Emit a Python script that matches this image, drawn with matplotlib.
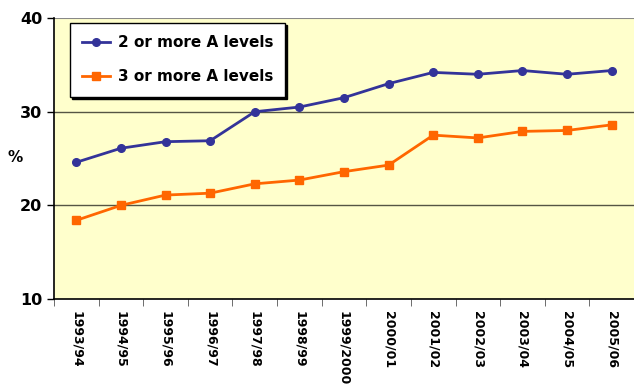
import matplotlib
matplotlib.use("Agg")
import numpy as np
import matplotlib.pyplot as plt

years = ["1993/94", "1994/95", "1995/96", "1996/97", "1997/98", "1998/99", "1999/2000",
         "2000/01", "2001/02", "2002/03", "2003/04", "2004/05", "2005/06"]
two_plus = [24.6, 26.1, 26.8, 26.9, 30.0, 30.5, 31.5, 33.0, 34.2, 34.0, 34.4, 34.0, 34.4]
three_plus = [18.4, 20.0, 21.1, 21.3, 22.3, 22.7, 23.6, 24.3, 27.5, 27.2, 27.9, 28.0, 28.6]

fig = plt.figure(figsize=(6.34, 3.85), dpi=100)
ax = fig.add_axes([0.0852, 0.2234, 0.9148, 0.7296])
ax.set_facecolor("#FFFFCC")

x = np.arange(len(years))
ax.plot(x, two_plus, color="#333399", lw=2, marker="o", ms=5.5, label="2 or more A levels", zorder=3)
ax.plot(x, three_plus, color="#FF6600", lw=2, marker="s", ms=5.5, label="3 or more A levels", zorder=3)

ax.set_xlim(-0.5, len(years) - 0.5)
ax.set_ylim(10, 40)
ax.set_yticks([10, 20, 30, 40])
ax.set_yticklabels(["10", "20", "30", "40"], fontsize=11.5, fontweight="bold")
for y in [20, 30]:
    ax.axhline(y, color="#555544", lw=1, zorder=1)
ax.axhline(40, color="#888888", lw=1.5, zorder=1)

ax.set_xticks(x)
ax.set_xticklabels(years, rotation=-90, fontsize=9, fontweight="bold")
ax.set_xticks(np.arange(len(years) + 1) - 0.5, minor=True)
ax.tick_params(axis="x", which="major", length=0, pad=9)
ax.tick_params(axis="x", which="minor", length=5, color="#555555")
ax.tick_params(axis="y", length=5, width=1)

for s in ["top", "right"]:
    ax.spines[s].set_visible(False)
ax.spines["left"].set_linewidth(1.2)
ax.spines["bottom"].set_linewidth(1.2)

fig.text(0.024, 0.59, "%", fontsize=11, fontweight="bold", ha="center", va="center")

leg = ax.legend(loc="upper left", bbox_to_anchor=(0.028, 0.982), frameon=True, fancybox=False,
                shadow={"color": "black", "alpha": 1, "ox": 1.5, "oy": -1.5},
                prop={"weight": "bold", "size": 11},
                handlelength=1.8, handletextpad=0.5, labelspacing=1.25, borderpad=0.8, borderaxespad=0)
leg.get_frame().set_edgecolor("black")
leg.get_frame().set_linewidth(1)
leg.get_frame().set_facecolor("white")
leg.get_frame().set_alpha(1)

fig.savefig("out.png", dpi=100)
